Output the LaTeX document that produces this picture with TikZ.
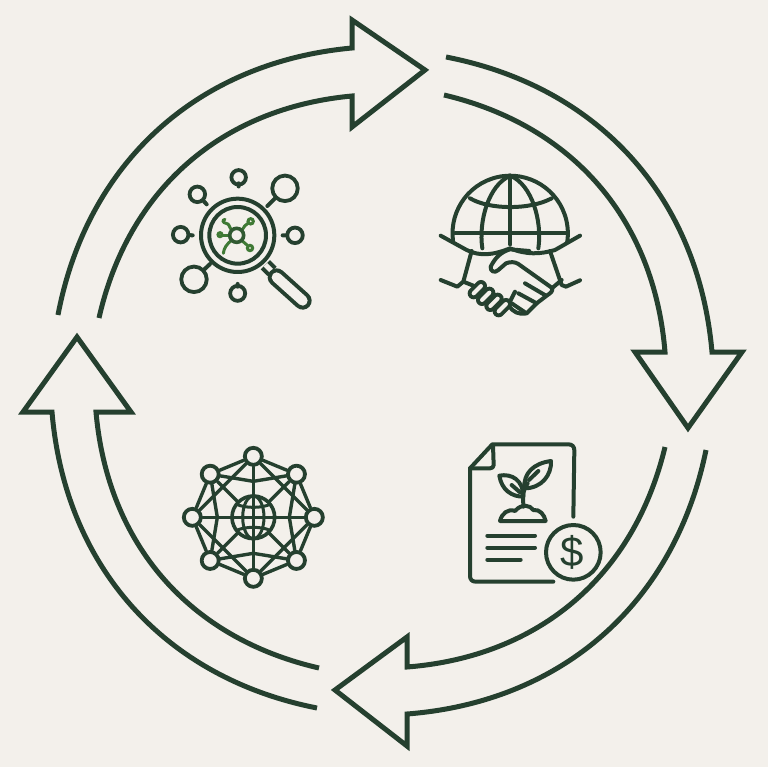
\documentclass[tikz,border=0pt]{standalone}
\usepackage{fontspec}
\usetikzlibrary{ backgrounds
               , calc
               }
\definecolor{pine}{HTML}{25402F}
\definecolor{leafgreen}{HTML}{3F7A35}
\definecolor{paper}{HTML}{F3F0EB}
\newfontfamily\dollarfont{Liberation Sans}

\begin{document}
\begin{tikzpicture}
      [ x=1pt, y=-1pt
      , ring/.style={pine, draw, line width=5pt, line join=miter}
      , icon/.style={pine, draw, line width=4pt, line cap=round, line join=round}
      , thin icon/.style={icon, line width=3pt}
      , tube/.style={icon, double=paper, double distance=#1}
      , hub/.style={circle, pine, draw, fill=paper, line width=3.8pt, inner sep=0pt, minimum size=17pt}
      , sat/.style={circle, pine, draw, fill=paper, line width=3.8pt, inner sep=0pt, minimum size=#1}
      , germ/.style={leafgreen, draw, line width=3pt, line cap=round}
      ]
    \useasboundingbox (0,0) rectangle (768,767);
    \begin{scope}[on background layer]
    \fill[paper] (0,0) rectangle (768,767);
    \end{scope}

    % cycle arrows
    \draw[ring] (58,315) to[bend left=37] (352,48) -- (352,20) -- (425,70) -- (352,127) -- (352,96) to[bend right=36] (99,318);
    \draw[ring] (446,57) to[bend left=37] (712,352) -- (742,352) -- (688,428) -- (635,352) -- (665,352) to[bend right=36] (444,95);
    \draw[ring] (706,450) to[bend left=37] (407,714) -- (407,746) -- (335,690) -- (407,637) -- (407,667) to[bend right=36] (665,447);
    \draw[ring] (317,708) to[bend left=37] (52,412) -- (23,412) -- (77,337) -- (131,412) -- (96,412) to[bend right=36] (319,668);

    % magnifier
    \begin{scope}[shift={(160,160)}, scale=1/3]
    \draw[icon] (233,226) circle[radius=110];
    \draw[icon] (233,226) circle[radius=85];
    \node[sat=14.5pt] (sTop) at (236,52) {};
    \node[sat=15.5pt] (sTopLeft) at (112,103) {};
    \node[sat=25.5pt] (sTopRight) at (375,85) {};
    \node[sat=15.5pt] (sLeft) at (62,224) {};
    \node[sat=15.5pt] (sRight) at (405,226) {};
    \node[sat=25.5pt] (sBotLeft) at (102,358) {};
    \node[sat=15pt] (sBot) at (233,400) {};
    \draw[icon] (sTop) -- ++(0,18);
    \draw[icon] (sTopLeft) -- (140,133);
    \draw[icon] (sTopRight) -- (322,138);
    \draw[icon] (sLeft) -- (98,226);
    \draw[icon] (sRight) -- (368,226);
    \draw[icon] (sBotLeft) -- (150,312);
    \draw[icon] (sBot) -- ++(0,-20);
    \draw[tube=5pt, line cap=butt] (316,314) -- (336,334);
    \draw[tube=10pt] (350,352) -- (428,422);
    \end{scope}
    \begin{scope}[shift={(210,208)}, scale=1/3]
    \draw[germ] (66,68) .. controls (55,55) and (60,48) .. (48,46) .. controls (38,44) and (36,36) .. (45,34);
    \draw[germ] (94,68) .. controls (104,58) and (104,48) .. (115,45);
    \draw[germ] (122,40) circle[radius=8];
    \draw[germ] (58,82) -- (38,82);
    \draw[germ] (30,80) circle[radius=6];
    \draw[germ] (96,98) -- (112,112);
    \draw[germ] (120,120) circle[radius=8];
    \draw[germ] (66,96) .. controls (50,108) and (42,120) .. (40,136);
    \draw[pine!55!leafgreen, fill=paper, line width=3.6pt] (80,82) circle[radius=21];
    \end{scope}

    % globe and handshake
    \begin{scope}[shift={(430,165)}, scale=1/3]
    \draw[icon] (72,244) arc[start angle=167, end angle=373, radius=173];
    \draw[icon] (75,205) -- (407,205);
    \draw[icon] (241,32) -- (241,238);
    \draw[icon] (120,100) .. controls (180,135) and (300,135) .. (365,100);
    \draw[icon] (241,32) .. controls (175,60) and (145,170) .. (157,250);
    \draw[icon] (241,32) .. controls (307,60) and (337,170) .. (325,250);
    \fill[paper] (60,225) -- (115,262) -- (360,262) -- (425,225) -- (425,400) -- (60,400) -- cycle;
    \draw[icon] (32,212) -- (110,255) .. controls (150,275) and (190,270) .. (240,250)
                .. controls (290,270) and (330,268) .. (375,255) -- (450,212);
    \draw[icon] (125,258) -- (100,350) -- (82,365) -- (32,345);
    \draw[icon] (360,258) -- (395,360) -- (408,365) -- (450,346);
    \draw[icon] (298,258) -- (240,253) .. controls (210,262) and (195,280) .. (182,305)
                .. controls (180,320) and (195,325) .. (205,315) -- (228,295) .. controls (240,290) and (255,290) .. (265,297)
                -- (365,368) .. controls (372,378) and (360,385) .. (350,392) -- (320,415) -- (290,445) .. controls (265,450) and (250,440) .. (238,425);
    \draw[icon] (395,345) -- (368,368);
    \draw[icon] (285,355) -- (348,392);
    \draw[icon] (265,385) -- (320,415);
    \draw[icon] (245,415) -- (285,442);
    \draw[icon] (255,380) -- (240,410);
    \draw[icon] (100,350) -- (130,362);
    \foreach \cx/\cy in {140/376, 165/396, 190/414, 215/430}
      \draw[tube=4pt] (\cx+13,\cy-13) -- (\cx-9,\cy+9);
    \end{scope}

    % network
    \begin{scope}[shift={(170,435)}, scale=1/3]
    \foreach \i in {1,...,8}
      \node[hub] (n\i) at ($(250,247)+(45*\i:183)$) {};
    \foreach \i in {2,4,6,8}
      \coordinate (m\i) at ($(250,247)+(45*\i:108)$);
    \begin{scope}[on background layer]
    \foreach \a/\b in {1/2,2/3,3/4,4/5,5/6,6/7,7/8,8/1,
                       1/5,2/6,3/7,4/8,
                       2/4,4/6,6/8,8/2}
      \draw[icon, line width=3.4pt] (n\a) -- (n\b);
    \foreach \a/\i/\b in {1/2/3,3/4/5,5/6/7,7/8/1}
      \draw[icon, line width=3.4pt] (n\a) -- (m\i) -- (n\b);
    \end{scope}
    \draw[pine, fill=paper, line width=3.6pt] (250,247) circle[radius=64];
    \draw[thin icon] (250,183) -- (250,311);
    \draw[thin icon] (186,247) -- (314,247);
    \draw[thin icon] (250,247) ellipse[x radius=32, y radius=64];
    \draw[thin icon] (200,208) .. controls (225,220) and (275,220) .. (300,208);
    \draw[thin icon] (200,286) .. controls (225,274) and (275,274) .. (300,286);
    \end{scope}

    % report with sprout and coin
    \begin{scope}[shift={(455,435)}, scale=1/3]
    \draw[icon] (295,440) -- (62,440) .. controls (50,440) and (45,432) .. (45,422) -- (45,100) -- (112,28) -- (340,28)
                .. controls (352,28) and (358,35) .. (358,46) -- (355,245);
    \draw[icon] (45,100) -- (105,100) .. controls (112,100) and (116,96) .. (116,90) -- (114,30);
    \draw[icon] (205,215) .. controls (205,190) and (200,170) .. (218,145);
    \draw[icon] (205,185) .. controls (170,185) and (140,165) .. (133,122) .. controls (170,115) and (205,135) .. (205,185);
    \draw[icon] (208,160) .. controls (205,115) and (235,85) .. (288,78) .. controls (290,120) and (260,160) .. (208,160);
    \draw[icon] (170,150) -- (195,172);
    \draw[icon] (222,135) -- (250,108);
    \draw[icon] (135,258) .. controls (140,235) and (160,220) .. (180,228) .. controls (200,205) and (225,210) .. (235,225)
                .. controls (255,222) and (268,240) .. (272,258) -- cycle;
    \draw[icon] (97,302) -- (240,302);
    \draw[icon] (97,338) -- (240,338);
    \draw[icon] (97,374) -- (197,374);
    \draw[icon] (355,352) circle[radius=82];
    \node[pine, inner sep=0pt, font=\dollarfont\fontsize{42}{42}\selectfont] (dollar) at (353,353) {\$};
    \end{scope}
\end{tikzpicture}
\end{document}
